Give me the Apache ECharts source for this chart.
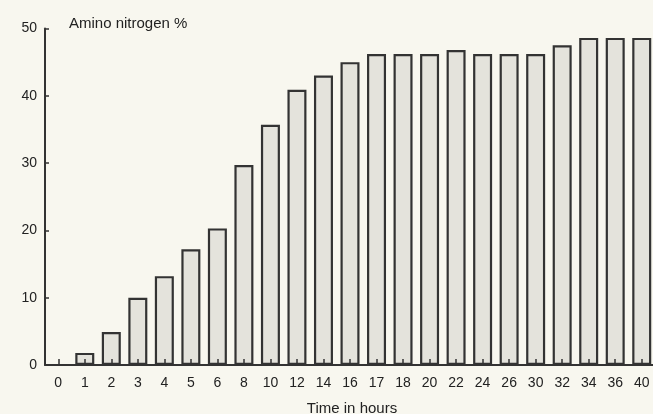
<!DOCTYPE html>
<html>
<head>
<meta charset="utf-8">
<script src="https://cdn.jsdelivr.net/npm/echarts@6/dist/echarts.min.js"></script>
<style>
  html, body { margin: 0; padding: 0; background: #f8f7ef; overflow: hidden; }
  #chart { width: 653px; height: 414px; }
</style>
</head>
<body>
<div id="chart"></div>
<script>
// hours of hydrolysis
var hours = ['0', '1', '2', '3', '4', '5', '6', '8', '10', '12', '14', '16', '17', '18', '20', '22', '24', '26', '30', '32', '34', '36', '40'];
// amino nitrogen, %
var aminoN = [0, 1.8, 4.9, 10, 13.2, 17.2, 20.3, 29.7, 35.7, 40.9, 43, 45, 46.2, 46.2, 46.2, 46.8, 46.2, 46.2, 46.2, 47.5, 48.6, 48.6, 48.6];
var yTicks = [0, 10, 20, 30, 40, 50];

var chart = echarts.init(document.getElementById('chart'));

var textColor = '#222';
var font = 'Liberation Sans';

option = {
    backgroundColor: '#f8f7ef',
    animation: false,
    title: {
        text: 'Amino nitrogen %',
        left: 64,
        top: 11,
        textStyle: { fontSize: 15, fontWeight: 'normal', fontFamily: font, color: textColor }
    },
    grid: {
        left: 45,
        right: -2,
        top: 28.5,
        bottom: 49,
        outerBoundsMode: 'none',
        containLabel: false
    },
    xAxis: {
        type: 'category',
        data: hours,
        z: 5,
        name: 'Time in hours',
        nameLocation: 'middle',
        nameGap: 36,
        nameTextStyle: { fontSize: 15, fontFamily: font, color: textColor, padding: [0, 0, 0, 4] },
        axisLine: { lineStyle: { color: '#333', width: 2 } },
        axisTick: { show: true, inside: true, alignWithLabel: true, length: 6, lineStyle: { color: '#333', width: 1.5 } },
        axisLabel: { fontSize: 14, fontFamily: font, color: textColor, margin: 11, interval: 0 }
    },
    yAxis: {
        type: 'value',
        min: 0,
        max: 50,
        interval: 10,
        splitLine: { show: false },
        axisLine: { show: true, lineStyle: { color: '#333', width: 2 } },
        axisTick: { show: true, inside: true, length: 4, lineStyle: { color: '#333', width: 1.5 } },
        axisLabel: {
            fontSize: 14, fontFamily: font, color: textColor, margin: 8,
            formatter: function (v) { return yTicks.indexOf(v) >= 0 ? String(v) : ''; }
        }
    },
    series: [{
        type: 'bar',
        data: aminoN,
        barWidth: 19,
        itemStyle: {
            color: '#e4e3dc',
            borderColor: '#333',
            borderWidth: 2.2
        }
    }]
};

chart.setOption(option);
</script>
</body>
</html>
